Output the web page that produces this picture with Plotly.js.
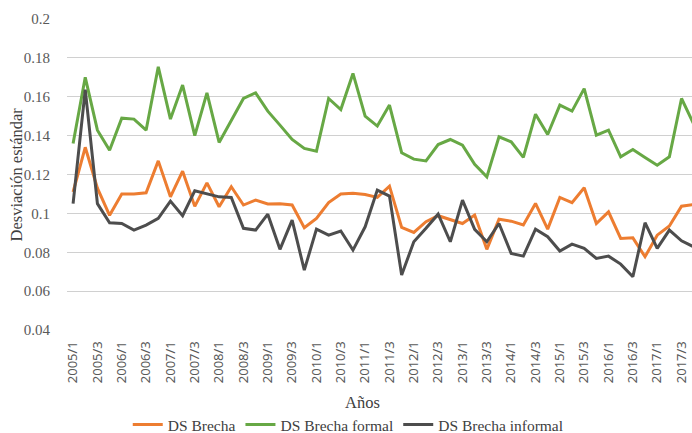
<!DOCTYPE html>
<html>
<head>
<meta charset="utf-8">
<script src="https://cdn.plot.ly/plotly-3.0.1.min.js"></script>
<style>html,body{margin:0;padding:0;background:#fff;}#chart{width:692px;height:433px;}</style>
</head>
<body>
<div id="chart"></div>
<script>
var quarters = [
  "2005/1","2005/2","2005/3","2005/4","2006/1","2006/2","2006/3","2006/4",
  "2007/1","2007/2","2007/3","2007/4","2008/1","2008/2","2008/3","2008/4",
  "2009/1","2009/2","2009/3","2009/4","2010/1","2010/2","2010/3","2010/4",
  "2011/1","2011/2","2011/3","2011/4","2012/1","2012/2","2012/3","2012/4",
  "2013/1","2013/2","2013/3","2013/4","2014/1","2014/2","2014/3","2014/4",
  "2015/1","2015/2","2015/3","2015/4","2016/1","2016/2","2016/3","2016/4",
  "2017/1","2017/2","2017/3","2017/4"
];
var tickLabels = [
  "2005/1","2005/3","2006/1","2006/3","2007/1","2007/3","2008/1","2008/3",
  "2009/1","2009/3","2010/1","2010/3","2011/1","2011/3","2012/1","2012/3",
  "2013/1","2013/3","2014/1","2014/3","2015/1","2015/3","2016/1","2016/3",
  "2017/1","2017/3"
];
var dsBrecha = [
  0.111,0.134,0.113,0.099,0.110,0.110,0.1106,0.127,
  0.1085,0.1217,0.1036,0.1157,0.1034,0.1137,0.1043,0.1068,
  0.1048,0.105,0.1043,0.0926,0.0974,0.1056,0.110,0.1103,
  0.1097,0.1082,0.114,0.0928,0.0902,0.0957,0.0988,0.0969,
  0.0948,0.0991,0.0815,0.097,0.096,0.094,0.1051,0.0919,
  0.1082,0.1055,0.1132,0.0948,0.1008,0.0871,0.0874,0.0777,
  0.0888,0.0935,0.1037,0.1046
];
var dsBrechaFormal = [
  0.136,0.170,0.1428,0.1325,0.149,0.1485,0.1428,0.1754,
  0.1485,0.166,0.140,0.162,0.1365,0.148,0.1591,0.162,
  0.1526,0.1454,0.138,0.1334,0.132,0.1591,0.1534,0.172,
  0.150,0.1449,0.1557,0.1312,0.1279,0.127,0.1354,0.138,
  0.1351,0.1252,0.1188,0.1394,0.1368,0.1288,0.151,0.1406,
  0.1557,0.1526,0.1642,0.1402,0.1428,0.1291,0.1329,0.1288,
  0.1248,0.1291,0.1591,0.146
];
var dsBrechaInformal = [
  0.105,0.1637,0.105,0.0952,0.0948,0.0914,0.094,0.0974,
  0.1063,0.0988,0.1116,0.110,0.1085,0.1082,0.0923,0.0914,
  0.0996,0.0815,0.0965,0.0708,0.0919,0.0888,0.0909,0.0811,
  0.0931,0.112,0.1089,0.0683,0.0854,0.0923,0.0996,0.0854,
  0.1068,0.0918,0.0854,0.0948,0.0794,0.078,0.0919,0.088,
  0.0806,0.0842,0.082,0.0768,0.078,0.0739,0.0674,0.0952,
  0.082,0.0914,0.0859,0.0828
];
var seriesNames = ["DS Brecha","DS Brecha formal","DS Brecha informal"];
var seriesColors = ["#ED7D31","#67A845","#4D4D4D"];
var seriesValues = [dsBrecha, dsBrechaFormal, dsBrechaInformal];

var traces = seriesValues.map(function(vals, k){
  return {
    type: "scatter", mode: "lines",
    x: quarters, y: vals, name: seriesNames[k],
    line: {color: seriesColors[k], width: 3},
    hoverinfo: "x+y+name"
  };
});

var serif = "Liberation Serif";
var layout = {
  width: 692, height: 433,
  margin: {l: 67, r: 0, t: 18.5, b: 103, pad: 0, autoexpand: false},
  paper_bgcolor: "#ffffff", plot_bgcolor: "#ffffff",
  showlegend: true,
  legend: {
    orientation: "h", x: 0.45, xanchor: "center", xref: "paper",
    yref: "container", y: 0.058, yanchor: "top",
    font: {family: serif, size: 15.5, color: "#404040"},
    itemwidth: 30, tracegroupgap: 0
  },
  xaxis: {
    type: "category", automargin: false,
    range: [-0.5, 50.86],
    tickmode: "array", tickvals: tickLabels, ticktext: tickLabels,
    tickangle: -90,
    tickfont: {family: "Noto Sans", size: 13, color: "#595959"},
    ticks: "outside", ticklen: 5, tickcolor: "rgba(0,0,0,0)",
    showgrid: false, zeroline: false, showline: false,
    fixedrange: true
  },
  yaxis: {
    automargin: false,
    range: [0.04, 0.2], dtick: 0.02, tick0: 0.04,
    tickfont: {family: serif, size: 15, color: "#595959"},
    ticks: "outside", ticklen: 13, tickcolor: "rgba(0,0,0,0)",
    showgrid: true, gridcolor: "#D0D0D0", gridwidth: 1.2,
    zeroline: false, showline: false, fixedrange: true
  },
  annotations: [
    {text: "Años", xref: "paper", yref: "paper",
     x: (362 - 67) / 625, y: (330 - 403) / 311.5, xanchor: "center", yanchor: "middle",
     showarrow: false, font: {family: serif, size: 16.5, color: "#404040"}},
    {text: "Desviación estándar", xref: "paper", yref: "paper",
     x: (16 - 67) / 625, y: 0.5, xanchor: "center", yanchor: "middle", textangle: -90,
     showarrow: false, font: {family: serif, size: 16.5, color: "#404040"}}
  ]
};

Plotly.newPlot("chart", traces, layout, {displayModeBar: false, staticPlot: true});
</script>
</body>
</html>
